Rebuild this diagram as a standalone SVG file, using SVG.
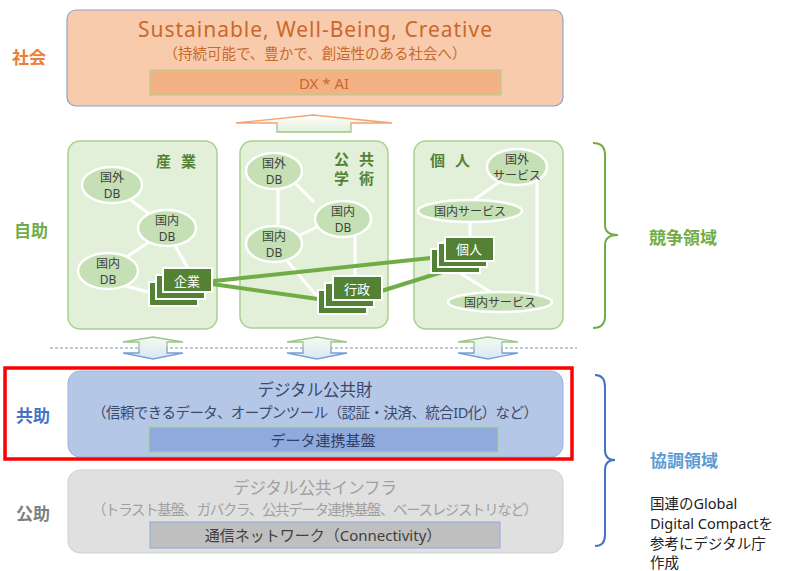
<svg xmlns="http://www.w3.org/2000/svg" width="796" height="571" viewBox="0 0 796 571">
<defs>
<style>
text{font-family:"Noto Sans","Noto Sans CJK JP",sans-serif;dominant-baseline:central}
.c{text-anchor:middle}
.side{font-size:17px;font-weight:bold}
.pt{font-size:15px;font-weight:bold;fill:#548235;word-spacing:6px}
.et{font-size:12px;fill:#404040;text-anchor:middle}
.el{fill:#c5e0b4;stroke:#fff;stroke-width:2.5}
.panel{fill:#e2f0d9;stroke:#a9d18e;stroke-width:1.5}
.wl{stroke:#fff;stroke-width:3;fill:none}
.gl{stroke:#70ad47;stroke-width:4;fill:none}
.tile{fill:#548235;stroke:#fff;stroke-width:2}
.tt{font-size:13px;fill:#fff;text-anchor:middle}
.br{fill:none;stroke-width:2}
</style>
<linearGradient id="gUp" x1="0" y1="0" x2="0" y2="1">
<stop offset="0" stop-color="#ffffff"/><stop offset="1" stop-color="#e2f0d9"/>
</linearGradient>
<linearGradient id="gDbl" x1="0" y1="0" x2="0" y2="1">
<stop offset="0" stop-color="#f4faf0"/><stop offset="1" stop-color="#dbe6f7"/>
</linearGradient>
<g id="dbl">
<path d="M0,337 L-30,342 L-14,342 L-14,353 L-30,353 L0,359 L30,353 L14,353 L14,342 L30,342 Z" fill="url(#gDbl)" stroke="none"/>
<path d="M-14,348 L-14,342 L-30,342 L0,337 L30,342 L14,342 L14,348" fill="none" stroke="#9cc68a" stroke-width="1.3"/>
<path d="M-14,348 L-14,353 L-30,353 L0,359 L30,353 L14,353 L14,348" fill="none" stroke="#7b9fd4" stroke-width="1.3"/>
</g>
</defs>
<rect width="796" height="571" fill="#fff"/>

<!-- side labels -->
<g id="labels">
<text class="side c" x="29" y="57" fill="#ed7d31">社会</text>
<text class="side c" x="31" y="230" fill="#70ad47">自助</text>
<text class="side c" x="33" y="415" fill="#4472c4">共助</text>
<text class="side c" x="33" y="513" fill="#808080">公助</text>
</g>

<!-- society -->
<g id="society">
<rect x="67" y="10" width="496" height="96" rx="9" fill="#f8cbad" stroke="#8ea3c9" stroke-width="1.2"/>
<text class="c" x="315" y="29" font-size="21" fill="#c9682b" textLength="354">Sustainable, Well-Being, Creative</text>
<text class="c" x="315" y="53" font-size="14.5" fill="#c9682b" textLength="303">（持続可能で、豊かで、創造性のある社会へ）</text>
<rect x="150" y="70" width="351" height="25" fill="#f4b183" stroke="#a9d18e" stroke-width="1"/>
<text class="c" x="324" y="83" font-size="15" fill="#c9682b">DX * AI</text>
</g>

<!-- up arrow -->
<g id="uparrow">
<path d="M313,115 L236,123 L277,123 L277,132 L351,132 L351,123 L392,123 Z" fill="url(#gUp)"/>
<path d="M277,125 L277,123 L236,123 L313,115 L392,123 L351,123 L351,125" fill="none" stroke="#f4a46c" stroke-width="1.3"/>
<path d="M277,125 L277,132 L351,132 L351,125" fill="none" stroke="#9cc68a" stroke-width="1.3"/>
</g>

<!-- panels -->
<g id="panel-industry">
<rect class="panel" x="68" y="141" width="149" height="188" rx="12"/>
<text class="pt c" x="176" y="161">産 業</text>
</g>
<g id="panel-public">
<rect class="panel" x="240" y="141" width="148" height="187" rx="12"/>
<text class="pt c" x="354" y="159">公 共</text>
<text class="pt c" x="354" y="178">学 術</text>
</g>
<g id="panel-individual">
<rect class="panel" x="414" y="141" width="149" height="188" rx="12"/>
<text class="pt c" x="450" y="160">個 人</text>
</g>

<!-- connectors -->
<g id="connectors">
<line class="wl" x1="120" y1="192" x2="160" y2="222"/>
<line class="wl" x1="158" y1="236" x2="116" y2="264"/>
<line class="wl" x1="172" y1="240" x2="190" y2="272"/>
<line class="wl" x1="122" y1="285" x2="152" y2="293"/>
<line class="wl" x1="278" y1="180" x2="278" y2="236"/>
<line class="wl" x1="294" y1="182" x2="314" y2="202"/>
<line class="wl" x1="290" y1="240" x2="325" y2="223"/>
<line class="wl" x1="355" y1="230" x2="355" y2="280"/>
<line class="wl" x1="283" y1="256" x2="320" y2="300"/>
<line class="wl" x1="502" y1="180" x2="468" y2="204"/>
<line class="wl" x1="470" y1="218" x2="470" y2="238"/>
<line class="wl" x1="452" y1="268" x2="500" y2="298"/>
<line class="wl" x1="537" y1="160" x2="537" y2="296"/>
<line class="gl" x1="205" y1="282" x2="440" y2="257"/>
<line class="gl" x1="205" y1="283" x2="325" y2="300"/>
<line class="gl" x1="375" y1="293" x2="455" y2="268"/>
</g>

<!-- ellipse nodes -->
<g id="n-foreign-db-1"><ellipse class="el" cx="112" cy="185" rx="30" ry="18"/><text class="et" x="112" y="177">国外</text><text class="et" x="112" y="193">DB</text></g>
<g id="n-domestic-db-1"><ellipse class="el" cx="167" cy="228" rx="29" ry="18"/><text class="et" x="167" y="220">国内</text><text class="et" x="167" y="236">DB</text></g>
<g id="n-domestic-db-2"><ellipse class="el" cx="108" cy="271" rx="30" ry="18"/><text class="et" x="108" y="263">国内</text><text class="et" x="108" y="279">DB</text></g>
<g id="n-foreign-db-2"><ellipse class="el" cx="274" cy="171" rx="28" ry="18"/><text class="et" x="274" y="163">国外</text><text class="et" x="274" y="179">DB</text></g>
<g id="n-domestic-db-3"><ellipse class="el" cx="343" cy="219" rx="28" ry="18"/><text class="et" x="343" y="211">国内</text><text class="et" x="343" y="227">DB</text></g>
<g id="n-domestic-db-4"><ellipse class="el" cx="274" cy="244" rx="28" ry="18"/><text class="et" x="274" y="236">国内</text><text class="et" x="274" y="252">DB</text></g>
<g id="n-foreign-svc"><ellipse class="el" cx="517" cy="167" rx="30" ry="18"/><text class="et" x="517" y="159">国外</text><text class="et" x="517" y="175">サービス</text></g>
<g id="n-domestic-svc-1"><ellipse class="el" cx="470" cy="211" rx="52" ry="11"/><text class="et" x="470" y="211">国内サービス</text></g>
<g id="n-domestic-svc-2"><ellipse class="el" cx="500" cy="302" rx="52" ry="10"/><text class="et" x="500" y="302">国内サービス</text></g>

<!-- stacks -->
<g id="n-company">
<rect class="tile" x="149" y="282" width="49" height="24"/>
<rect class="tile" x="156" y="275" width="49" height="24"/>
<rect class="tile" x="163" y="268" width="49" height="24"/>
<text class="tt" x="187" y="281">企業</text>
</g>
<g id="n-gov">
<rect class="tile" x="318" y="290" width="49" height="24"/>
<rect class="tile" x="325" y="283" width="49" height="24"/>
<rect class="tile" x="333" y="276" width="49" height="24"/>
<text class="tt" x="357" y="289">行政</text>
</g>
<g id="n-person">
<rect class="tile" x="431" y="249" width="49" height="24"/>
<rect class="tile" x="438" y="243" width="49" height="24"/>
<rect class="tile" x="445" y="237" width="49" height="24"/>
<text class="tt" x="469" y="249">個人</text>
</g>

<!-- dashed line and double arrows -->
<line x1="50" y1="348" x2="577" y2="348" stroke="#7f8fb0" stroke-width="1" stroke-dasharray="3,2"/>
<g id="dbl-1"><use href="#dbl" x="153"/></g>
<g id="dbl-2"><use href="#dbl" x="317"/></g>
<g id="dbl-3"><use href="#dbl" x="488"/></g>

<!-- kyojo -->
<g id="kyojo">
<rect x="68" y="371" width="495" height="86" rx="12" fill="#b4c7e7" stroke="#9db3dc" stroke-width="1"/>
<text class="c" x="315" y="389" font-size="16.5" fill="#3b4a6b">デジタル公共財</text>
<text class="c" x="315" y="412" font-size="14.5" fill="#3b4a6b" textLength="446">（信頼できるデータ、オープンツール（認証・決済、統合ID化）など）</text>
<rect x="149" y="427" width="349" height="25" fill="#8faadc" stroke="#a9d18e" stroke-width="1"/>
<text class="c" x="323" y="440" font-size="15" fill="#2f3f66">データ連携基盤</text>
</g>
<rect x="5" y="368" width="567" height="91" fill="none" stroke="#ff0000" stroke-width="3.5"/>

<!-- kojo -->
<g id="kojo">
<rect x="68" y="470" width="495" height="83" rx="12" fill="#e0e0e0" stroke="#cfcfcf" stroke-width="1"/>
<text class="c" x="315" y="487" font-size="16.5" fill="#a0a0a0">デジタル公共インフラ</text>
<text class="c" x="315" y="509" font-size="14.5" fill="#a0a0a0" textLength="446">（トラスト基盤、ガバクラ、公共データ連携基盤、ベースレジストリなど）</text>
<rect x="150" y="522" width="350" height="26" fill="#bfbfbf" stroke="#8faadc" stroke-width="1"/>
<text class="c" x="323" y="535" font-size="15" fill="#404040">通信ネットワーク（Connectivity）</text>
</g>

<!-- brackets -->
<g id="bracket-compete">
<path class="br" stroke="#70ad47" d="M593,143 Q605,143 605,155 L605,225 Q605,235 618,235 Q605,235 605,245 L605,316 Q605,328 593,328"/>
<text x="649" y="237" font-size="17" font-weight="bold" fill="#70ad47">競争領域</text>
</g>
<g id="bracket-coop">
<path class="br" stroke="#4472c4" d="M595,375 Q605,375 605,387 L605,450 Q605,460 615,460 Q605,460 605,470 L605,535 Q605,546 595,546"/>
<text x="650" y="460" font-size="17" font-weight="bold" fill="#5b9bd5">協調領域</text>
</g>
<g id="note" font-size="14.5" fill="#222">
<text x="650" y="503">国連のGlobal</text>
<text x="650" y="523">Digital Compactを</text>
<text x="650" y="543">参考にデジタル庁</text>
<text x="650" y="562">作成</text>
</g>
</svg>
